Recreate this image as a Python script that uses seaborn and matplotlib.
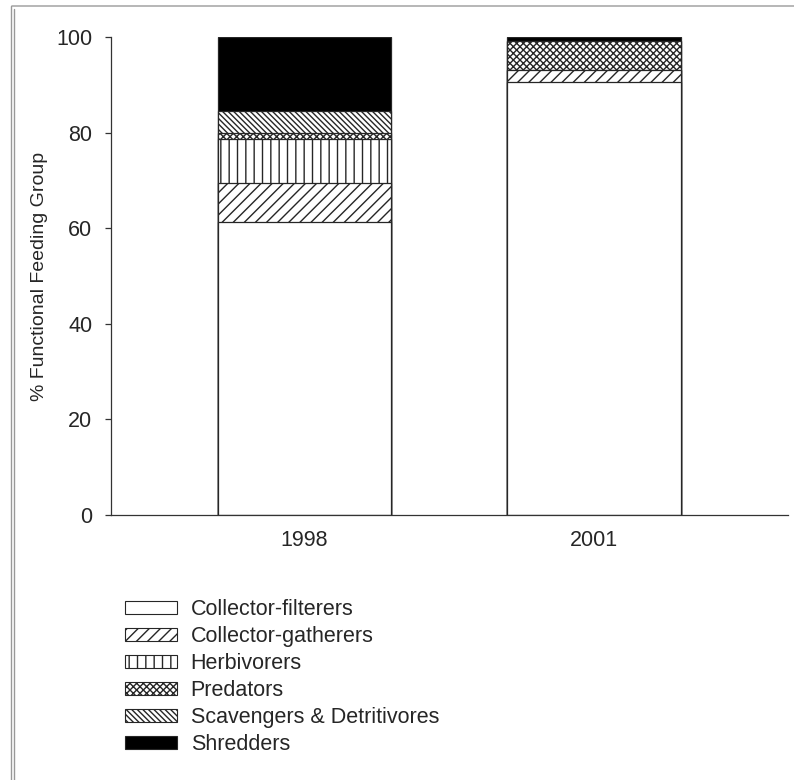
import numpy as np
import pandas as pd
import matplotlib
matplotlib.use('Agg')
import matplotlib.pyplot as plt
from matplotlib.patches import Patch
from matplotlib.lines import Line2D
import seaborn as sns

# data (% of each group per year)
years = ['1998', '2001']
groups = ['Collector-filterers', 'Collector-gatherers', 'Herbivorers',
          'Predators', 'Scavengers & Detritivores', 'Shredders']
collector_filterers = [61.2, 90.6]
collector_gatherers = [8.2, 2.4]
herbivorers = [9.2, 0.0]
predators = [1.3, 6.2]
scavengers = [4.7, 0.0]
shredders = [15.4, 0.8]

hatches = ['', '///', '||', 'xxxxx', '\\' * 6, '']
fills = ['white', 'white', 'white', 'white', 'white', 'black']

sns.set_style('white')
plt.rcParams['font.family'] = ['Liberation Sans', 'DejaVu Sans']
plt.rcParams['hatch.linewidth'] = 1.0

values = np.array([collector_filterers, collector_gatherers, herbivorers,
                   predators, scavengers, shredders])
tops = np.cumsum(values, axis=0)

fig = plt.figure(figsize=(7.94, 7.8), dpi=100)
ax = fig.add_axes([111 / 794, 1 - 515 / 780, (788 - 111) / 794, (515 - 37) / 780])

# stacked bars: draw cumulative totals from the top group down, each covering the one before
for i in range(len(groups) - 1, -1, -1):
    df = pd.DataFrame({'year': years, 'top': tops[i]})
    sns.barplot(data=df, x='year', y='top', color=fills[i], saturation=1,
                hatch=hatches[i], edgecolor='#262626', linewidth=0.9,
                width=0.6, ax=ax)

ax.set_ylim(0, 100)
ax.set_xlim(-0.668, 1.67)
ax.set_yticks([0, 20, 40, 60, 80, 100])
ax.set_xlabel('')
ax.set_ylabel('% Functional Feeding Group', fontsize=14, labelpad=6)
ax.tick_params(axis='y', which='both', left=True, length=4.5, width=0.9,
               color='#333333', labelsize=15.5, pad=9)
ax.tick_params(axis='x', length=0, labelsize=15.5, pad=11)
sns.despine(ax=ax)
for s in ['left', 'bottom']:
    ax.spines[s].set_color('#333333')
    ax.spines[s].set_linewidth(0.9)

handles = [Patch(facecolor=fills[i], edgecolor='#262626', hatch=hatches[i],
                 linewidth=0.8, label=groups[i]) for i in range(len(groups))]
fig.legend(handles=handles, loc='upper left',
           bbox_to_anchor=(125 / 794, 1 - 599 / 780), frameon=False,
           fontsize=15.5, handlelength=2.4, handleheight=0.6,
           handletextpad=0.65, labelspacing=0.28, borderpad=0,
           borderaxespad=0)

# scanned page frame
fig.add_artist(Line2D([12 / 794, 1], [1 - 6 / 780, 1 - 6 / 780],
                      transform=fig.transFigure, color='#aaaaaa', lw=1.2))
fig.add_artist(Line2D([11 / 794, 11 / 794], [0, 1 - 6 / 780],
                      transform=fig.transFigure, color='#999999', lw=1.0))
fig.add_artist(Line2D([14 / 794, 14 / 794], [0, 1 - 9 / 780],
                      transform=fig.transFigure, color='#999999', lw=1.0))

fig.savefig('out.png', dpi=100, facecolor='white')
